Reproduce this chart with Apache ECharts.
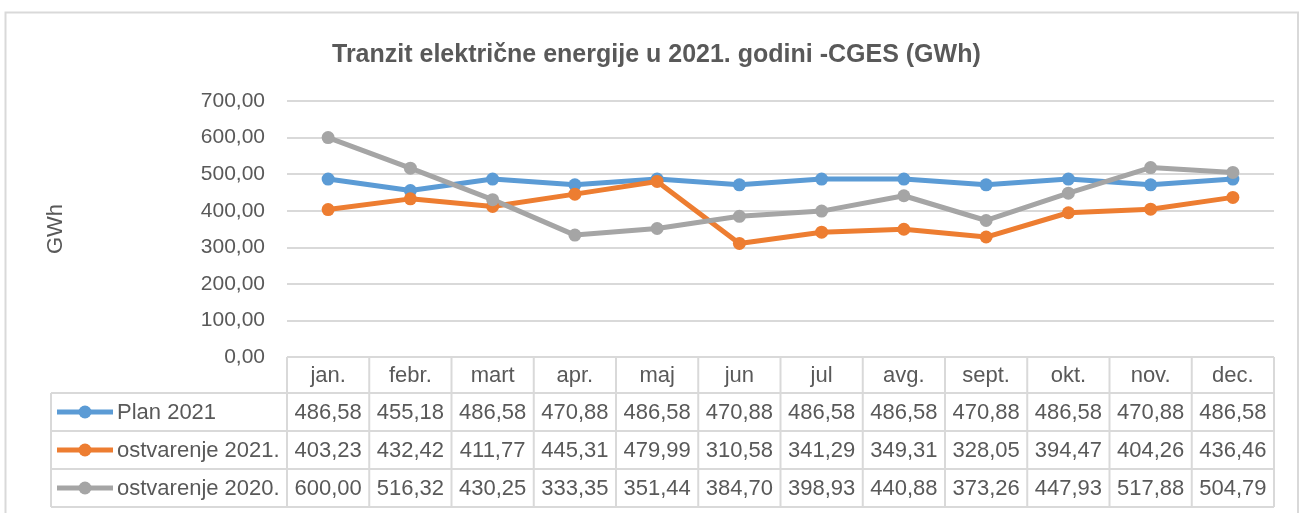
<!DOCTYPE html>
<html>
<head>
<meta charset="utf-8">
<script src="https://cdn.jsdelivr.net/npm/echarts@6/dist/echarts.min.js"></script>
<style>
html,body{margin:0;padding:0;background:#fff;}
#chart{width:1303px;height:513px;}
</style>
</head>
<body>
<div id="chart"></div>
<script>
const titleText = 'Tranzit električne energije u 2021. godini -CGES (GWh)';
const yAxisName = 'GWh';
const categories = ['jan.','febr.','mart','apr.','maj','jun','jul','avg.','sept.','okt.','nov.','dec.'];
const seriesNames = ['Plan 2021','ostvarenje 2021.','ostvarenje 2020.'];
const plan2021 = [486.58,455.18,486.58,470.88,486.58,470.88,486.58,486.58,470.88,486.58,470.88,486.58];
const ostvarenje2021 = [403.23,432.42,411.77,445.31,479.99,310.58,341.29,349.31,328.05,394.47,404.26,436.46];
const ostvarenje2020 = [600.00,516.32,430.25,333.35,351.44,384.70,398.93,440.88,373.26,447.93,517.88,504.79];
const yMin = 0, yMax = 700, yInterval = 100;

const seriesData = [plan2021, ostvarenje2021, ostvarenje2020];
const colors = ['#5B9BD5','#ED7D31','#A5A5A5'];
const textColor = '#595959';
const lineColor = '#D9D9D9';
const fontFamily = '"Liberation Sans", Arial, sans-serif';
const fmt = v => v.toFixed(2).replace('.', ',');

const chart = echarts.init(document.getElementById('chart'), null, {renderer:'canvas'});
chart.setOption({
  animation: false,
  textStyle: {fontFamily: fontFamily},
  title: {
    text: titleText, left: 327, top: 38,
    textStyle: {fontSize: 25, fontWeight: 'bold', color: textColor, fontFamily: fontFamily}
  },
  grid: {left: 287, right: 29, top: 101, bottom: 156, containLabel: false},
  xAxis: {
    type: 'category', data: categories, boundaryGap: true,
    axisLine: {show: false}, axisTick: {show: false}, axisLabel: {show: false}, splitLine: {show: false}
  },
  yAxis: {
    type: 'value', min: yMin, max: yMax, interval: yInterval,
    name: yAxisName, nameLocation: 'middle', nameRotate: 90, nameGap: 220,
    nameTextStyle: {fontSize: 22, color: textColor, fontFamily: fontFamily},
    axisLine: {show: false}, axisTick: {show: false},
    axisLabel: {formatter: v => fmt(v), fontSize: 21, color: textColor, margin: 22, fontFamily: fontFamily},
    splitLine: {lineStyle: {color: lineColor, width: 2}}
  },
  series: seriesNames.map((n, i) => ({
    name: n, type: 'line', data: seriesData[i],
    symbol: 'circle', symbolSize: 13,
    lineStyle: {width: 5, color: colors[i]},
    itemStyle: {color: colors[i]},
    emphasis: {disabled: true}
  }))
});

// Build data table from axis positions
const x0 = chart.convertToPixel({xAxisIndex: 0}, 0);
const x1 = chart.convertToPixel({xAxisIndex: 0}, 1);
const colW = x1 - x0;
const tableLeft = x0 - colW / 2;
const tableRight = tableLeft + colW * categories.length;
const tableTop = chart.convertToPixel({yAxisIndex: 0}, yMin);
const headerH = 36, rowH = 38;
const labelLeft = 51;
const els = [];
// outer border
els.push({type:'rect', shape:{x:5.5, y:12.5, width:1292.5, height:520}, style:{fill:'none', stroke:lineColor, lineWidth:2}, silent:true});
const lineStyle = {stroke: lineColor, lineWidth: 2};
// horizontal lines
els.push({type:'line', shape:{x1:tableLeft, y1:tableTop, x2:tableRight, y2:tableTop}, style:lineStyle});
for (let r = 0; r <= seriesNames.length; r++) {
  const y = tableTop + headerH + r * rowH;
  els.push({type:'line', shape:{x1:labelLeft, y1:y, x2:tableRight, y2:y}, style:lineStyle});
}
const tableBottom = tableTop + headerH + seriesNames.length * rowH;
// vertical lines
els.push({type:'line', shape:{x1:labelLeft, y1:tableTop + headerH, x2:labelLeft, y2:tableBottom}, style:lineStyle});
for (let c = 0; c <= categories.length; c++) {
  const x = tableLeft + c * colW;
  els.push({type:'line', shape:{x1:x, y1:tableTop, x2:x, y2:tableBottom}, style:lineStyle});
}
// header text
categories.forEach((cat, i) => {
  const cx = chart.convertToPixel({xAxisIndex: 0}, i);
  els.push({type:'text', x: cx, y: tableTop + headerH / 2 + 1, style:{text: cat, fill: textColor, font: '22px ' + fontFamily, align:'center', verticalAlign:'middle'}});
});
// rows
seriesNames.forEach((n, r) => {
  const cy = tableTop + headerH + r * rowH + rowH / 2;
  els.push({type:'line', shape:{x1:57, y1:cy, x2:113, y2:cy}, style:{stroke: colors[r], lineWidth:5}});
  els.push({type:'circle', shape:{cx:85, cy:cy, r:6.5}, style:{fill: colors[r]}});
  els.push({type:'text', x: 117, y: cy + 1, style:{text: n, fill: textColor, font: '22px ' + fontFamily, align:'left', verticalAlign:'middle'}});
  seriesData[r].forEach((v, i) => {
    const cx = chart.convertToPixel({xAxisIndex: 0}, i);
    els.push({type:'text', x: cx, y: cy + 1, style:{text: fmt(v), fill: textColor, font: '22px ' + fontFamily, align:'center', verticalAlign:'middle'}});
  });
});
chart.setOption({graphic: {elements: els}});
</script>
</body>
</html>
